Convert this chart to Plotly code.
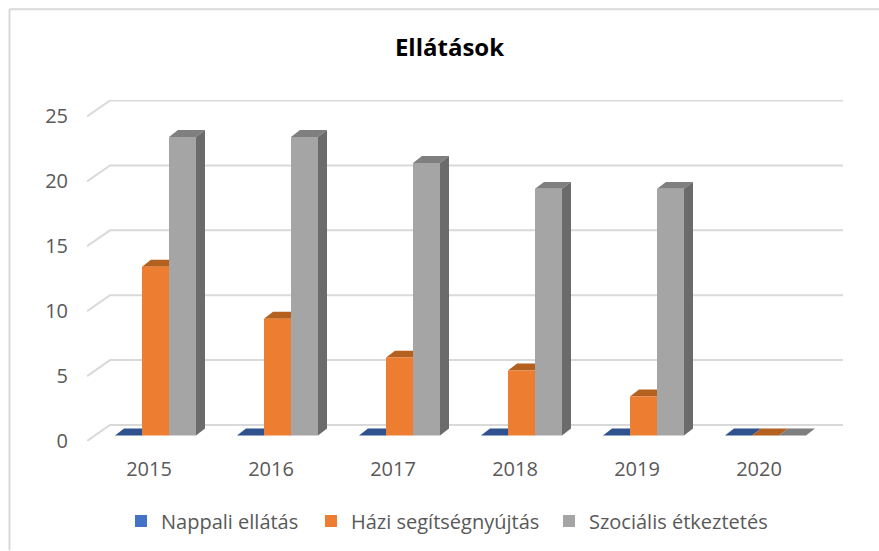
import plotly.graph_objects as go

years = ["2015", "2016", "2017", "2018", "2019", "2020"]
nappali = [0, 0, 0, 0, 0, 0]
hazi = [13, 9, 6, 5, 3, 0]
szocialis = [23, 23, 21, 19, 19, 0]
y_ticks = [0, 5, 10, 15, 20, 25]

series = [
    ("Nappali ellátás", nappali, "#4472C4", "#2F528F", "#2F528F"),
    ("Házi segítségnyújtás", hazi, "#ED7D31", "#B4601F", "#AE5A21"),
    ("Szociális étkeztetés", szocialis, "#A5A5A5", "#7F7F7F", "#6B6B6B"),
]
legend_ids = ["legend", "legend2", "legend3"]
legend_text_px = [161, 351, 589]

W, H = 879, 551
L, R, T, B = 87, 843, 100, 441.5
PX_X, PX_Y = 122.0, 13.0          # pixels per category / per unit
X0, Y0 = 94.5, 436.0              # pixel of the bar plane origin
x_range = [-0.5 + (L - X0) / PX_X, -0.5 + (R - X0) / PX_X]
y_range = [(Y0 - B) / PX_Y, (Y0 - T) / PX_Y]

bargap = 1 - 81 / 122
bar_w = (1 - bargap) / 3
dx, dy = 9 / PX_X, 7 / PX_Y       # bar depth
gx, gy = 23 / PX_X, 16 / PX_Y     # floor depth
lab_dx = -6.5 / PX_X              # tick labels sit on the front edge
lab_dy = -5.5 / PX_Y

fig = go.Figure()
shapes = []

# back wall gridlines, with the slanted side-wall piece
for v in y_ticks:
    yf = v + lab_dy
    xf = x_range[0]
    shapes.append(dict(type="path", xref="x", yref="y", layer="below",
                       path=f"M {xf} {yf} L {xf + gx} {yf + gy} L {x_range[1]} {yf + gy}",
                       line=dict(color="#D9D9D9", width=2)))

xs = list(range(len(years)))
for s, (name, vals, face, top, side) in enumerate(series):
    for i, v in zip(xs, vals):
        x1 = i - 1.5 * bar_w + s * bar_w
        x2 = x1 + bar_w
        shapes.append(dict(type="path", xref="x", yref="y", layer="below",
                           path=f"M {x1} {v} L {x1 + dx} {v + dy} L {x2 + dx} {v + dy} L {x2} {v} Z",
                           fillcolor=top, line=dict(width=0)))
        if v > 0:
            shapes.append(dict(type="path", xref="x", yref="y", layer="below",
                               path=f"M {x2} {v} L {x2 + dx} {v + dy} L {x2 + dx} {dy} L {x2} 0 Z",
                               fillcolor=side, line=dict(width=0)))
    fig.add_trace(go.Bar(name=name, x=xs, y=vals, legend=legend_ids[s], showlegend=True,
                         marker=dict(color=face, line=dict(width=0))))

# chart frame
shapes.append(dict(type="line", xref="paper", yref="paper", layer="below",
                   x0=(9.5 - L) / (R - L), x1=(9.5 - L) / (R - L),
                   y0=(B - 551) / (B - T), y1=(B - 9) / (B - T),
                   line=dict(color="#D9D9D9", width=2)))
shapes.append(dict(type="line", xref="paper", yref="paper", layer="below",
                   x0=(9.5 - L) / (R - L), x1=(879 - L) / (R - L),
                   y0=(B - 9) / (B - T), y1=(B - 9) / (B - T),
                   line=dict(color="#D9D9D9", width=2)))

legend_common = dict(orientation="h", xanchor="left", y=1 - 521 / H, yanchor="middle",
                     yref="container", xref="container", font=dict(size=20),
                     bgcolor="rgba(0,0,0,0)")
legends = {lid: dict(x=(px - 40) / W, **legend_common) for lid, px in zip(legend_ids, legend_text_px)}

fig.update_layout(
    width=W, height=H, showlegend=True,
    margin=dict(l=L, r=W - R, t=T, b=H - B, pad=0),
    paper_bgcolor="white", plot_bgcolor="rgba(0,0,0,0)",
    barmode="group", bargap=bargap, bargroupgap=0,
    font=dict(family="Open Sans", color="#595959", size=20),
    title=dict(text="<b>Ellátások</b>", x=449.5 / W, xanchor="center", y=1 - 48 / H, yanchor="middle",
               font=dict(family="Open Sans", size=24, color="#000000")),
    xaxis=dict(range=x_range, tickmode="array", tickvals=[i + lab_dx for i in xs], ticktext=years,
               showgrid=False, zeroline=False, showline=False, ticks="", ticklabelstandoff=14),
    yaxis=dict(range=y_range, tickmode="array", tickvals=[v + lab_dy for v in y_ticks],
               ticktext=[str(v) for v in y_ticks], showgrid=False, zeroline=False, showline=False,
               ticks="", ticklabelstandoff=18),
    shapes=shapes,
    **legends,
)

fig.write_html("out.html", post_script="document.body.style.margin='0';",
               config={"displayModeBar": False})
